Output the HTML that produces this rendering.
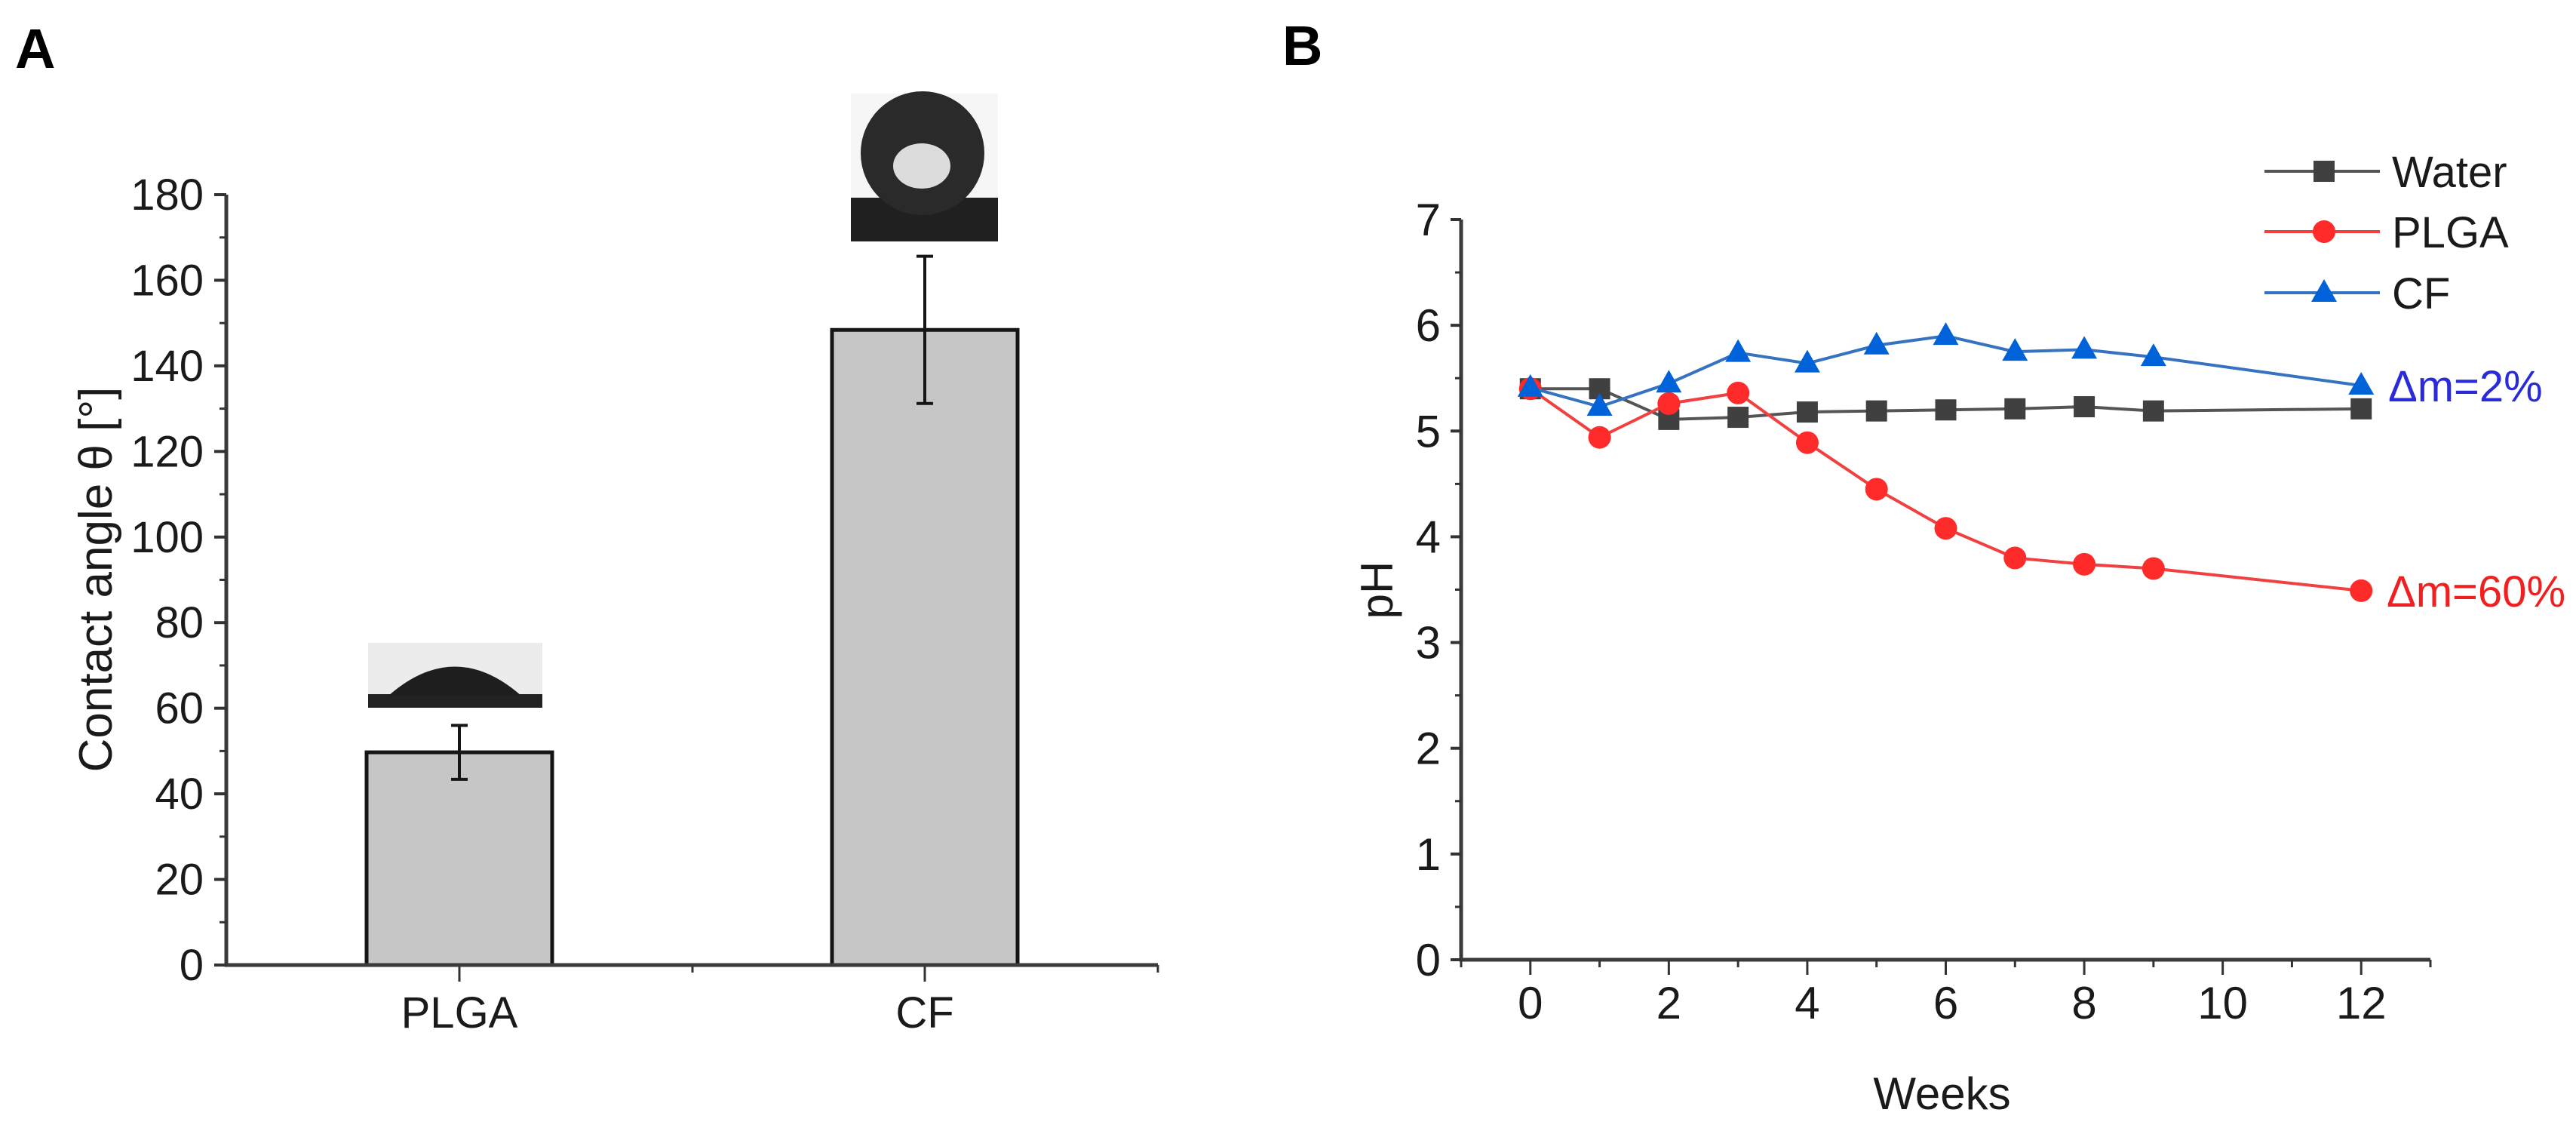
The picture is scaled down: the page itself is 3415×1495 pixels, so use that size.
<!DOCTYPE html>
<html><head><meta charset="utf-8"><style>
html,body{margin:0;padding:0;background:#fff;}
svg{display:block;font-family:"Liberation Sans",sans-serif;}
</style></head><body>
<svg id="fig" width="3415" height="1495" viewBox="0 0 3415 1495" xmlns="http://www.w3.org/2000/svg">
<rect width="3415" height="1495" fill="#fff"/>
<text x="20" y="90" font-size="74" font-weight="bold">A</text>
<text x="1700" y="86" font-size="74" font-weight="bold">B</text>
<g id="ga"></g>
<g id="gb"></g>
</svg>
<script>
const NS='http://www.w3.org/2000/svg';
// ---- Panel A data ----
const barCats=['PLGA','CF'];
const barVals=[49.7,148.4];
const barErr=[6.3,17.2];
const aTicks=[0,20,40,60,80,100,120,140,160,180];
// ---- Panel B data ----
const weeks=[0,1,2,3,4,5,6,7,8,9,12];
const waterVals=[5.40,5.40,5.11,5.13,5.18,5.19,5.20,5.21,5.23,5.19,5.21];
const plgaVals=[5.40,4.94,5.26,5.36,4.89,4.45,4.08,3.80,3.74,3.70,3.49];
const cfVals=[5.41,5.23,5.45,5.74,5.64,5.81,5.90,5.75,5.77,5.70,5.43];
const bYTicks=[0,1,2,3,4,5,6,7];
const bXTicks=[0,2,4,6,8,10,12];

function mk(tag,attrs,parent,txt){const e=document.createElementNS(NS,tag);for(const k in attrs)e.setAttribute(k,attrs[k]);if(txt!==undefined)e.textContent=txt;parent.appendChild(e);return e;}
const ga=document.getElementById('ga'), gb=document.getElementById('gb');

// Panel A axes
const aX0=300,aX1=1535,aY0=1279,aY1=258;
const ay=v=>aY0-(v-0)/(180-0)*(aY0-aY1);
const barCenters=[609,1226];
const barW=246;
const ax=i=>barCenters[i];
let e;
barCats.forEach((c,i)=>{
  e=mk('rect',{x:ax(i)-barW/2,y:ay(barVals[i]),width:barW,height:ay(0)-ay(barVals[i]),fill:'#c6c6c6',stroke:'#151515','stroke-width':5},ga);
  
  
  const top=ay(barVals[i]+barErr[i]),bot=ay(barVals[i]-barErr[i]);
  e=mk('path',{d:`M${ax(i)},${top}V${bot}M${ax(i)-11},${top}H${ax(i)+11}M${ax(i)-11},${bot}H${ax(i)+11}`,stroke:'#151515','stroke-width':4,fill:'none'},ga);
  
  
  e=mk('text',{x:ax(i),y:1362,'font-size':58,'text-anchor':'middle',fill:'#1a1a1a'},ga,c);
  
  
  mk('line',{x1:ax(i),x2:ax(i),y1:aY0,y2:aY0+22,stroke:'#333','stroke-width':3},ga);
});
mk('line',{x1:918,x2:918,y1:aY0,y2:aY0+10,stroke:'#333','stroke-width':3},ga);
mk('line',{x1:aX1,x2:aX1,y1:aY0,y2:aY0+10,stroke:'#333','stroke-width':3},ga);
e=mk('path',{d:`M${aX0},${aY1}V${aY0}H${aX1}`,stroke:'#3a3a3a','stroke-width':5,fill:'none'},ga);


aTicks.forEach(t=>{
  mk('line',{x1:aX0-16,x2:aX0,y1:ay(t),y2:ay(t),stroke:'#333','stroke-width':4},ga);
  if(t<180)mk('line',{x1:aX0-9,x2:aX0,y1:ay(t+10),y2:ay(t+10),stroke:'#333','stroke-width':3},ga);
  e=mk('text',{x:270,y:ay(t)+20,'font-size':58,'text-anchor':'end',fill:'#1a1a1a'},ga,String(t));
  
  
});
e=mk('text',{x:0,y:0,'font-size':62,'text-anchor':'middle',fill:'#1a1a1a',transform:'translate(148,768) rotate(-90)'},ga,'Contact angle θ [°]');


// droplet insets
const ins1=mk('g',{},ga);


mk('rect',{x:488,y:852,width:231,height:86,fill:'#ececec'},ins1);
mk('rect',{x:488,y:920,width:231,height:18,fill:'#222'},ins1);
mk('path',{d:'M515,922 Q603,845 691,922 Z',fill:'#1e1e1e'},ins1);
const ins2=mk('g',{},ga);


mk('rect',{x:1128,y:124,width:195,height:196,fill:'#f6f6f6'},ins2);
mk('rect',{x:1128,y:262,width:195,height:58,fill:'#202020'},ins2);
mk('circle',{cx:1223,cy:203,r:82,fill:'#2a2a2a'},ins2);
mk('ellipse',{cx:1222,cy:220,rx:38,ry:30,fill:'#dcdcdc'},ins2);

// Panel B axes
const bX0=1937,bX1=3222,bY0=1272,bY1=291;
const bx=v=>bX0+(v-(-1))/(13-(-1))*(bX1-bX0);
const by=v=>bY0-(v-0)/(7-0)*(bY0-bY1);
e=mk('path',{d:`M${bX0},${bY1}V${bY0}H${bX1}`,stroke:'#3a3a3a','stroke-width':5,fill:'none'},gb);


bYTicks.forEach(t=>{
  mk('line',{x1:bX0-14,x2:bX0,y1:by(t),y2:by(t),stroke:'#333','stroke-width':4},gb);
  if(t<7)mk('line',{x1:bX0-8,x2:bX0,y1:by(t+0.5),y2:by(t+0.5),stroke:'#333','stroke-width':3},gb);
  e=mk('text',{x:1910,y:by(t)+21,'font-size':60,'text-anchor':'end',fill:'#1a1a1a'},gb,String(t));
  
  
});
for(let w=-1;w<=13;w++){
  const major=bXTicks.includes(w);
  mk('line',{x1:bx(w),x2:bx(w),y1:bY0,y2:bY0+(major?20:10),stroke:'#333','stroke-width':3},gb);
}
bXTicks.forEach(t=>{
  e=mk('text',{x:bx(t),y:1350,'font-size':60,'text-anchor':'middle',fill:'#1a1a1a'},gb,String(t));
  
  
});
e=mk('text',{x:(bX0+bX1)/2-5,y:1470,'font-size':60,'text-anchor':'middle',fill:'#1a1a1a'},gb,'Weeks');


e=mk('text',{x:0,y:0,'font-size':60,'text-anchor':'middle',fill:'#1a1a1a',transform:'translate(1846,782) rotate(-90)'},gb,'pH');



function marker(g,type,x,y,fill){
  if(type==='sq')return mk('rect',{x:x-14,y:y-14,width:28,height:28,fill:fill},g);
  if(type==='ci')return mk('circle',{cx:x,cy:y,r:15,fill:fill},g);
  return mk('path',{d:`M${x},${y-18}L${x+17},${y+12}L${x-17},${y+12}Z`,fill:fill},g);
}
const series=[
  {name:'water',vals:waterVals,line:'#555',fill:'#404040',m:'sq'},
  {name:'plga',vals:plgaVals,line:'#f04040',fill:'#ff2a2a',m:'ci'},
  {name:'cf',vals:cfVals,line:'#3572c0',fill:'#0062d8',m:'tr'}
];
series.forEach(s=>{
  const g=mk('g',{},gb);
  
  
  e=mk('polyline',{points:weeks.map((w,i)=>bx(w)+','+by(s.vals[i])).join(' '),fill:'none',stroke:s.line,'stroke-width':4},g);
  
  
  weeks.forEach((w,i)=>{
    e=marker(g,s.m,bx(w),by(s.vals[i]),s.fill);
    
    
  });
});
// legend
const legLabels=['Water','PLGA','CF'];
const legY=[227,307,388];
series.forEach((s,i)=>{
  const g=mk('g',{},gb);
  
  
  mk('line',{x1:3002,x2:3155,y1:legY[i],y2:legY[i],stroke:s.line,'stroke-width':4},g);
  marker(g,s.m,3081,legY[i],s.fill);
  mk('text',{x:3171,y:legY[i]+21,'font-size':58,fill:'#1a1a1a'},g,legLabels[i]);
});
e=mk('text',{x:3166,y:by(cfVals[10])+21,'font-size':58,fill:'#2a2ad8'},gb,'Δm=2%');


e=mk('text',{x:3164,y:by(plgaVals[10])+21,'font-size':58,fill:'#f02020'},gb,'Δm=60%');


</script>
</body></html>
